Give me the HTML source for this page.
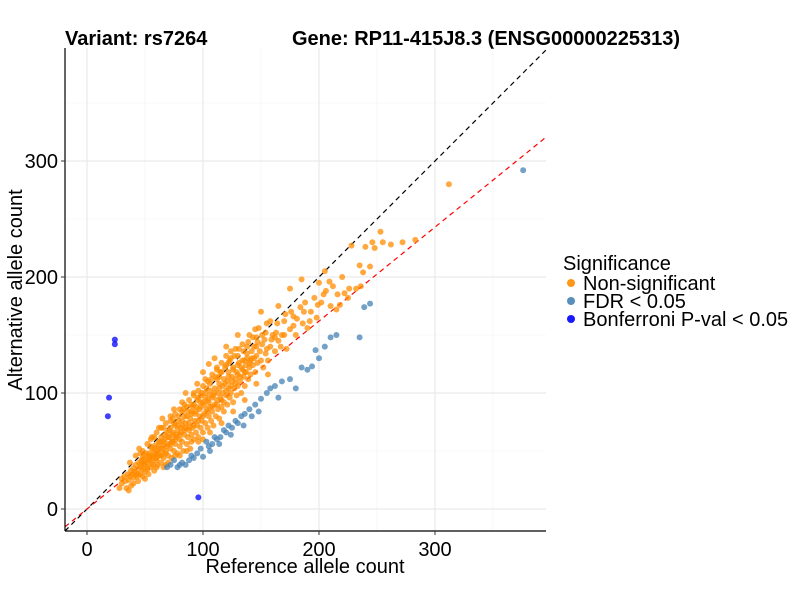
<!DOCTYPE html>
<html><head><meta charset="utf-8"><style>
body{margin:0;background:#fff}
svg{font-family:"Liberation Sans",Arial,sans-serif}
</style></head><body>
<svg id="chart" width="800" height="600">
<rect width="800" height="600" fill="#fff"/>
<text x="65" y="45" font-size="20" font-weight="bold">Variant: rs7264</text>
<text x="292" y="45" font-size="20" font-weight="bold" textLength="388">Gene: RP11-415J8.3 (ENSG00000225313)</text>
<g id="grid"></g>
<g id="lines"></g>
<g id="pts"></g>
<g id="axes"></g>
<text x="305" y="573" font-size="20" text-anchor="middle">Reference allele count</text>
<text transform="translate(22,290) rotate(-90)" font-size="20" text-anchor="middle">Alternative allele count</text>
<g>
<text x="563" y="270" font-size="20">Significance</text>
<g><circle cx="571" cy="283" r="4" fill="#ff8c00" opacity="0.9"/><text x="583" y="290" font-size="20">Non-significant</text></g>
<g><circle cx="571" cy="301" r="4" fill="#4682b4" opacity="0.9"/><text x="583" y="308" font-size="20">FDR &lt; 0.05</text></g>
<g><circle cx="571" cy="319" r="4" fill="#0000ff" opacity="0.9"/><text x="583" y="326" font-size="20">Bonferroni P-val &lt; 0.05</text></g>
</g>
</svg>
<script>
const xTicks=[0,100,200,300];
const yTicks=[0,100,200,300];
const minorTicks=[50,150,250,350];
const nonSig=[[30,22],[32,28],[34,18],[35,30],[36,25],[38,33],[38,20],[40,35],[40,27],[42,30],[42,38],[44,24],[44,34],[45,40],[46,30],[47,36],[48,28],[48,44],[50,38],[50,32],[50,46],[52,40],[52,34],[53,30],[54,48],[54,42],[55,36],[56,52],[56,44],[57,38],[58,48],[58,33],[59,55],[60,42],[60,50],[61,38],[62,58],[62,46],[63,52],[64,40],[64,62],[65,48],[66,55],[66,44],[67,60],[68,50],[68,38],[69,66],[70,56],[70,46],[71,62],[72,52],[72,70],[73,44],[74,58],[74,64],[75,50],[76,72],[76,56],[77,62],[78,48],[78,68],[79,76],[80,60],[80,54],[81,66],[82,72],[82,58],[83,50],[84,80],[84,64],[85,70],[86,56],[86,88],[87,62],[88,74],[88,68],[89,52],[90,82],[90,64],[91,70],[92,90],[92,60],[93,76],[94,66],[94,84],[95,72],[96,96],[96,62],[97,80],[98,70],[98,88],[99,76],[100,66],[100,92],[101,82],[102,74],[102,100],[103,86],[104,70],[104,94],[105,80],[106,88],[106,108],[107,76],[108,96],[108,84],[109,72],[110,100],[110,90],[111,80],[112,112],[112,94],[113,86],[114,104],[114,78],[115,96],[116,118],[116,88],[117,100],[118,92],[118,84],[119,108],[120,98],[120,124],[121,90],[122,104],[122,114],[123,96],[124,130],[124,100],[125,110],[126,92],[126,120],[127,104],[128,112],[128,138],[129,98],[130,116],[130,106],[131,126],[132,110],[133,100],[134,120],[134,142],[135,114],[136,106],[136,128],[137,118],[138,134],[139,112],[140,122],[140,150],[141,116],[142,130],[143,124],[144,140],[145,118],[146,132],[147,126],[148,156],[149,136],[150,128],[151,142],[152,122],[153,146],[154,134],[155,160],[156,128],[158,140],[160,150],[162,136],[164,160],[165,145],[168,150],[170,162],[172,138],[175,155],[178,166],[180,150],[184,174],[186,160],[188,178],[190,156],[193,170],[196,182],[198,165],[200,195],[202,178],[206,188],[210,175],[212,192],[216,185],[218,176],[222,186],[225,182],[228,227],[232,190],[238,204],[240,226],[244,209],[248,225],[253,239],[255,230],[262,228],[272,230],[283,232],[312,280],[85,100],[95,108],[75,86],[65,78],[55,60],[45,52],[100,118],[110,130],[120,140],[105,125],[70,40],[80,46],[60,36],[90,58],[50,26],[40,22],[36,16],[100,60],[62,70],[72,80],[82,92],[92,100],[102,112],[112,122],[130,150],[145,155],[150,170],[158,162],[165,175],[175,190],[185,198],[205,205],[220,200],[235,210]];
const nonSig2=[[48,50],[52,56],[56,62],[60,66],[64,70],[68,74],[72,76],[76,82],[80,86],[84,90],[88,94],[92,98],[96,102],[100,106],[104,110],[108,116],[112,120],[116,126],[120,132],[124,136],[46,38],[50,42],[54,46],[58,52],[62,54],[66,58],[70,62],[74,66],[78,72],[82,76],[86,80],[90,84],[94,88],[98,92],[102,96],[106,98],[110,104],[114,108],[118,112],[122,118],[126,122],[130,124],[134,128],[138,130],[142,136],[146,140],[44,30],[48,34],[52,36],[56,40],[60,44],[64,46],[68,48],[72,56],[76,60],[80,64],[84,68],[88,70],[92,72],[96,76],[100,80],[104,84],[108,88],[112,90],[116,94],[120,102],[124,106],[128,108],[132,114],[136,118],[140,126],[144,130],[49,40],[53,44],[57,46],[61,48],[65,52],[69,54],[73,58],[77,64],[81,70],[85,74],[89,78],[93,82],[97,86],[101,90],[105,92],[109,98],[113,100],[117,106],[121,110],[125,114],[129,118],[133,122],[137,124],[141,128],[58,62],[66,70],[74,78],[82,84],[90,90],[98,98],[106,102],[114,114],[122,126],[130,132],[138,140],[146,148],[154,152],[162,148],[170,150],[178,158],[66,36],[76,46],[86,50],[96,58],[106,66],[116,74],[126,84],[136,94],[146,108],[156,116],[39,30],[43,28],[47,42],[51,48],[55,54],[59,44],[63,58],[67,64],[71,68],[75,74],[79,80],[83,86],[87,84],[91,88],[95,94],[99,100],[103,104],[107,112],[111,114],[115,118],[119,122],[123,128],[127,132],[131,138],[135,136],[139,144],[143,148],[147,144],[151,150],[155,138],[159,146],[163,152],[167,140],[171,168],[176,170],[181,164],[187,170],[192,162],[199,176],[204,185],[209,196],[215,172],[226,190],[236,192],[246,230],[33,24],[37,28],[41,32],[37,40],[42,46],[46,48],[30,26],[28,18]];
const fdr=[[69,36],[72,38],[75,42],[78,36],[80,38],[82,40],[85,38],[88,42],[90,46],[92,44],[95,48],[98,52],[100,45],[103,58],[105,54],[106,50],[108,56],[110,62],[112,60],[114,56],[115,62],[118,68],[120,66],[122,72],[124,64],[125,70],[128,76],[130,74],[133,80],[135,72],[136,82],[140,86],[142,80],[145,90],[148,84],[150,95],[155,100],[158,104],[162,106],[165,96],[168,110],[175,112],[180,104],[185,122],[190,120],[194,123],[197,137],[200,130],[205,140],[210,148],[215,150],[235,148],[239,174],[244,177],[376,292]];
const bonf=[[24,146],[24,142],[19,96],[18,80],[96,10]];
const redSlope=0.81;

const NS="http://www.w3.org/2000/svg";
const L=65,R=546,T=48,B=531;
const X=v=>87+v*1.16, Y=v=>509-v*1.16;
const xMin=(L-87)/1.16, xMax=(R-87)/1.16;
function mk(tag,attrs,parent){const e=document.createElementNS(NS,tag);for(const k in attrs)e.setAttribute(k,attrs[k]);parent.appendChild(e);return e;}
const grid=document.getElementById('grid');
minorTicks.forEach(t=>{
 let a=mk('line',{x1:X(t),x2:X(t),y1:T,y2:B,stroke:'#f2f2f2','stroke-width':0.6},grid);
 
 
 let b=mk('line',{x1:L,x2:R,y1:Y(t),y2:Y(t),stroke:'#f2f2f2','stroke-width':0.6},grid);
 
 
});
xTicks.forEach(t=>{
 let a=mk('line',{x1:X(t),x2:X(t),y1:T,y2:B,stroke:'#e6e6e6','stroke-width':1},grid);
 
 
});
yTicks.forEach(t=>{
 let b=mk('line',{x1:L,x2:R,y1:Y(t),y2:Y(t),stroke:'#e6e6e6','stroke-width':1},grid);
 
 
});
const lines=document.getElementById('lines');
const cp=mk('clipPath',{id:'cp'},lines);mk('rect',{x:L,y:T,width:R-L,height:B-T},cp);
let d1=mk('line',{x1:X(xMin),y1:Y(xMin),x2:X(xMax),y2:Y(xMax),stroke:'#000','stroke-width':1.2,'stroke-dasharray':'5,4','clip-path':'url(#cp)'},lines);


const pts=document.getElementById('pts');
function draw(arr,col,name){arr.forEach(p=>{
 let c=mk('circle',{cx:X(p[0]),cy:Y(p[1]),r:3,fill:col,'fill-opacity':0.75},pts);
 
 
});}
draw(nonSig,'#ff8c00','point-nonsignificant');
draw(nonSig2,'#ff8c00','point-nonsignificant');
draw(fdr,'#4682b4','point-fdr');
draw(bonf,'#0000ff','point-bonferroni');
let d2=mk('line',{x1:X(xMin),y1:Y(xMin*redSlope),x2:X(xMax),y2:Y(xMax*redSlope),stroke:'#ff0000','stroke-width':1.2,'stroke-dasharray':'5,4','clip-path':'url(#cp)'},lines);


const axes=document.getElementById('axes');
mk('line',{x1:L,x2:L,y1:T,y2:B,stroke:'#000','stroke-width':1.2},axes);
mk('line',{x1:L,x2:R,y1:B,y2:B,stroke:'#000','stroke-width':1.2},axes);
xTicks.forEach(t=>{
 mk('line',{x1:X(t),x2:X(t),y1:B,y2:B+4,stroke:'#333'},axes);
 let tx=mk('text',{x:X(t),y:556,'font-size':20,'text-anchor':'middle'},axes);tx.textContent=t;
 
 
});
yTicks.forEach(t=>{
 mk('line',{x1:L-4,x2:L,y1:Y(t),y2:Y(t),stroke:'#333'},axes);
 let tx=mk('text',{x:58,y:Y(t)+7,'font-size':20,'text-anchor':'end'},axes);tx.textContent=t;
 
 
});
</script>
</body></html>
